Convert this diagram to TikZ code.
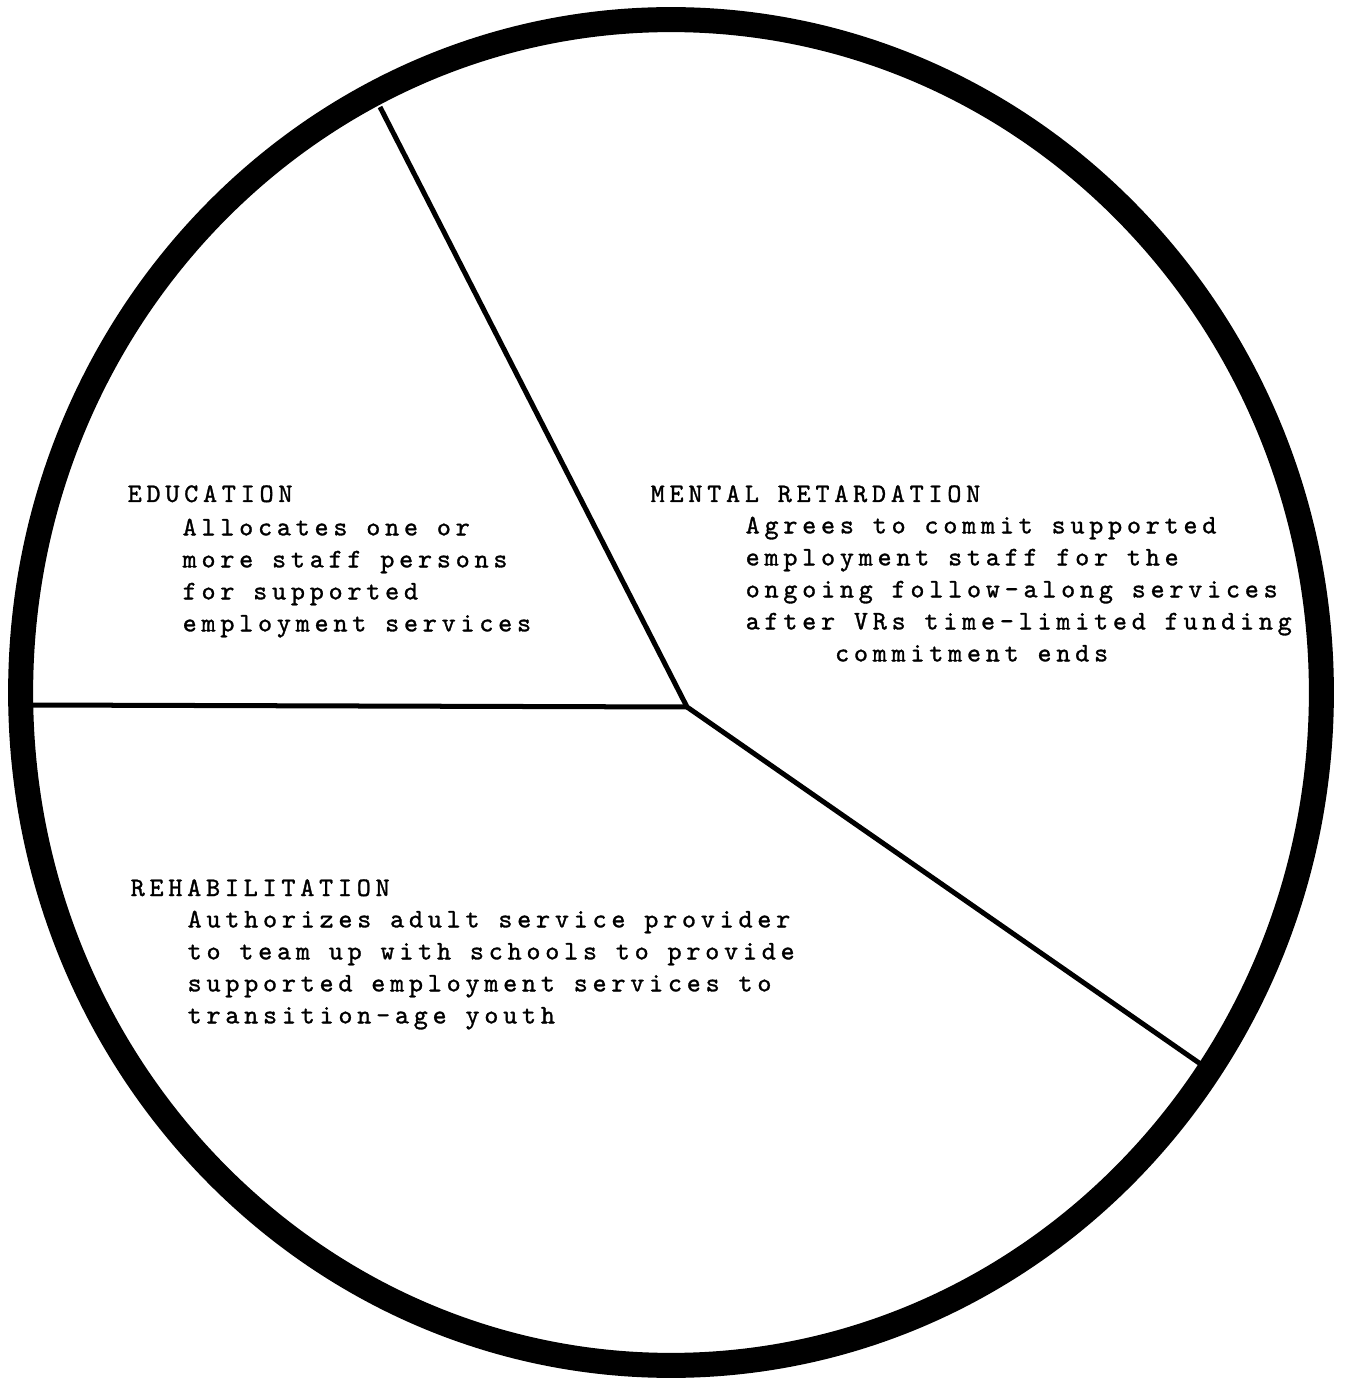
\documentclass[tikz,border=0pt]{standalone}
\usepackage{fontspec}
\newfontfamily\typewriter[LetterSpace=18, FakeBold=1.2]{lmmono10-regular.otf}
\usetikzlibrary{positioning}

\begin{document}
\begin{tikzpicture}[
    x=0.01cm, y=-0.01cm,
    every node/.style={font=\typewriter\fontsize{7.6}{9.1}\selectfont,
                       inner sep=0pt, anchor=base west},
    body/.style={align=left, anchor=north west},
    rim/.style={line width=0.25cm},
    spoke/.style={line width=0.05cm, line join=round},
  ]
  \useasboundingbox (0,0) rectangle (1344,1380);

  % outer ring
  \draw[rim] (671,692.5) ellipse [x radius=6.5cm, y radius=6.725cm];

  \coordinate (hub)   at (687,707);
  \coordinate (rimN)  at (380,107);
  \coordinate (rimW)  at (30,705);
  \coordinate (rimSE) at (1202,1065);

  \draw[spoke] (rimN) -- (hub) -- (rimSE);
  \draw[spoke] (rimW) -- (hub);

  \node (edu) at (127,502) {EDUCATION};
  \node[body] (eduTxt) at (182,518)
    {Allocates one or\\more staff persons\\for supported\\employment services};

  \node (mr) at (650,502) {MENTAL RETARDATION};
  \node[body] (mrTxt) at (745,516)
    {Agrees to commit supported\\employment staff for the\\ongoing follow-along services\\after VRs time-limited funding\\\hphantom{after}commitment ends};

  \node (reh) at (130,896) {REHABILITATION};
  \node[body] (rehTxt) at (187,910)
    {Authorizes adult service provider\\to team up with schools to provide\\supported employment services to\\transition-age youth};
\end{tikzpicture}
\end{document}
